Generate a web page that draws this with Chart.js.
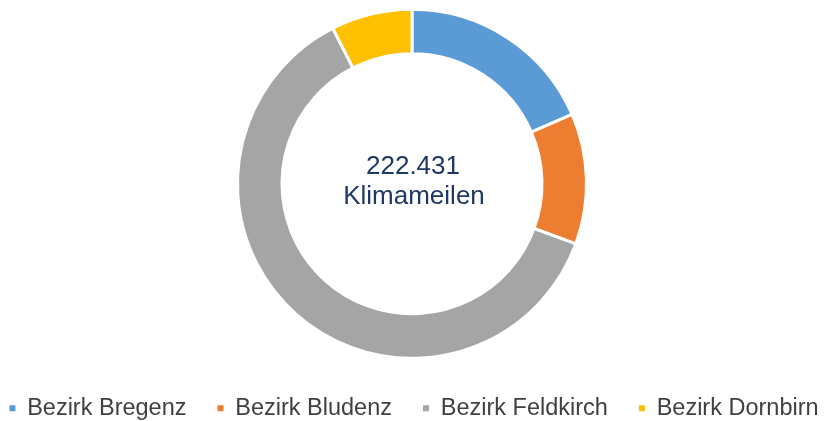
<!DOCTYPE html>
<html>
<head>
<meta charset="utf-8">
<script src="https://cdn.jsdelivr.net/npm/chart.js@4"></script>
<style>
  html, body { margin: 0; padding: 0; background: #fff; }
  #wrap { width: 824px; height: 421px; }
</style>
</head>
<body>
<div id="wrap"><canvas id="chart"></canvas></div>
<script>
// Klimameilen per district
const districts = ['Bezirk Bregenz', 'Bezirk Bludenz', 'Bezirk Feldkirch', 'Bezirk Dornbirn'];
const climateMiles = [41150, 26900, 137700, 16681];
const sliceColors = ['#5B9BD5', '#ED7D31', '#A5A5A5', '#FFC000'];
const centerCaption = 'Klimameilen';

// 222431 -> "222.431"
const total = climateMiles.reduce((a, b) => a + b, 0);
const totalLabel = String(total).replace(/\B(?=(\d{3})+(?!\d))/g, '.');

const fontFamily = '"Liberation Sans", Arial, sans-serif';

// draws the total in the hole of the ring
const centerText = {
    id: 'centerText',
    afterDraw(chart) {
        const arc = chart.getDatasetMeta(0).data[0];
        if (!arc) return;
        const ctx = chart.ctx;
        ctx.save();
        ctx.fillStyle = '#1F3864';
        ctx.font = '26px ' + fontFamily;
        ctx.textAlign = 'center';
        ctx.textBaseline = 'alphabetic';
        ctx.fillText(totalLabel, arc.x + 1, arc.y - 10);
        ctx.fillText(centerCaption, arc.x + 2, arc.y + 20);
        ctx.restore();
    }
};

// the legend sits a few pixels right of the ring centre in the original
const legendShift = {
    id: 'legendShift',
    afterLayout(chart) {
        chart.legend.left += 6;
        chart.legend.right += 6;
    }
};

new Chart(document.getElementById('chart').getContext('2d'), {
    type: 'doughnut',
    data: {
        labels: districts,
        datasets: [{
            data: climateMiles,
            backgroundColor: sliceColors,
            borderColor: '#ffffff',
            borderWidth: 3
        }]
    },
    options: {
        responsive: true,
        maintainAspectRatio: false,
        animation: false,
        radius: 174.5,
        cutout: '74.5%',
        layout: {
            padding: { top: 2, bottom: -9, left: -34, right: -26 }
        },
        plugins: {
            tooltip: { enabled: false },
            legend: {
                position: 'bottom',
                labels: {
                    boxWidth: 6,
                    boxHeight: 6,
                    padding: 31,
                    color: '#404040',
                    font: { family: fontFamily, size: 23.5 },
                    // no white outline on the legend squares
                    generateLabels(chart) {
                        const items = Chart.overrides.doughnut.plugins.legend.labels.generateLabels(chart);
                        items.forEach(it => { it.lineWidth = 0; it.strokeStyle = it.fillStyle; });
                        return items;
                    }
                }
            }
        }
    },
    plugins: [centerText, legendShift]
});
</script>
</body>
</html>
